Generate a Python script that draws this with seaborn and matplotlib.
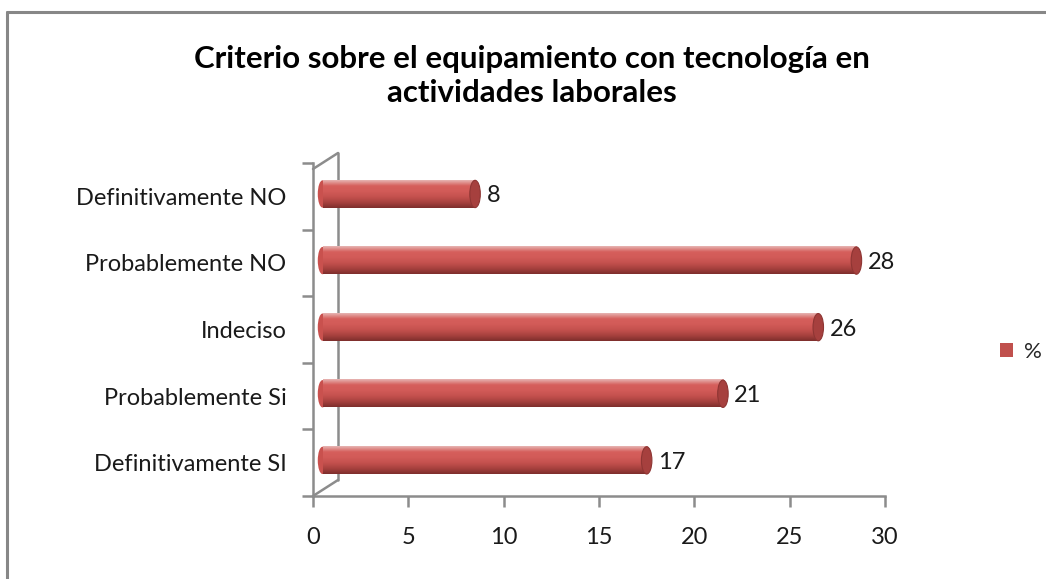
import numpy as np
import pandas as pd
import matplotlib
matplotlib.use("Agg")
import matplotlib.pyplot as plt
import seaborn as sns
from matplotlib.patches import Ellipse
from matplotlib.lines import Line2D
from matplotlib.colors import LinearSegmentedColormap

categories = ["Definitivamente NO", "Probablemente NO", "Indeciso", "Probablemente Si", "Definitivamente SI"]
values = [8, 28, 26, 21, 17]
series_name = "%"
title = "Criterio sobre el equipamiento con tecnología en\nactividades laborales"
xticks = [0, 5, 10, 15, 20, 25, 30]

sns.set_theme(style="white")
plt.rcParams["font.family"] = ["Lato", "DejaVu Sans"]

W, H = 1046, 579
fig = plt.figure(figsize=(W / 100, H / 100), dpi=100)

def fx(px):
    return px / W

def fy(py):
    return 1 - py / H

# axes: front plane x 313..885, y 163..496
ax = fig.add_axes([fx(313), fy(496), fx(885) - fx(313), (496 - 163) / H])

df = pd.DataFrame({"cat": categories, "val": values})
sns.barplot(data=df, y="cat", x="val", orient="h", color="#C0504D", width=0.41, ax=ax)

grad = LinearSegmentedColormap.from_list(
    "cyl", ["#E6B3B1", "#D65F5C", "#D25B58", "#C4514E", "#A8423F", "#7E2E2C"])
gimg = np.linspace(0, 1, 64).reshape(-1, 1)
depth = 0.5  # 3D depth shift of the series plane
for p in list(ax.patches):
    x0, y0 = p.get_x() + depth, p.get_y() - 0.035
    w, h = p.get_width(), p.get_height()
    ax.add_patch(Ellipse((x0, y0 + h / 2), 0.5, h, facecolor="#C9514E", edgecolor="none", zorder=2))
    ax.imshow(gimg, cmap=grad, extent=(x0, x0 + w, y0 + h, y0), aspect="auto",
              origin="upper", zorder=3, interpolation="bilinear")
    ax.add_patch(Ellipse((x0 + w, y0 + h / 2), 0.55, h, facecolor="#A6403E",
                         edgecolor="#8E3533", lw=0.8, zorder=4))
    p.set_visible(False)
    ax.text(x0 + w + 0.6, y0 + h / 2 + 0.03, f"{w:g}", va="center", ha="left",
            fontsize=17, color="#1a1a1a", zorder=5)

ax.set_xlim(0, 30)
ax.set_ylim(4.5, -0.5)
ax.set_xticks(xticks)
ax.set_xticklabels([str(t) for t in xticks], fontsize=17, color="#1a1a1a")
ax.set_yticks(range(len(categories)))
ax.set_yticklabels(categories, fontsize=17, color="#1a1a1a")
ax.set_yticks(np.arange(-0.5, len(categories), 1.0), minor=True)
ax.tick_params(axis="y", which="major", length=0, pad=19)
ax.tick_params(axis="y", which="minor", length=8, width=1.8, color="#8c8c8c", left=True)
ax.tick_params(axis="x", which="major", length=8, width=1.8, color="#8c8c8c", bottom=True, pad=14, direction="out")
ax.set_xlabel("")
ax.set_ylabel("")
for s in ["top", "right"]:
    ax.spines[s].set_visible(False)
for s in ["left", "bottom"]:
    ax.spines[s].set_color("#8c8c8c")
    ax.spines[s].set_linewidth(1.8)
ax.patch.set_alpha(0)

# 3D back wall lines (behind the bars)
wall = dict(color="#8c8c8c", lw=1.8, transform=fig.transFigure, zorder=-1)
fig.add_artist(Line2D([fx(313), fx(338)], [fy(169), fy(153)], **wall))
fig.add_artist(Line2D([fx(338), fx(338)], [fy(153), fy(480)], **wall))
fig.add_artist(Line2D([fx(313), fx(338)], [fy(496), fy(480)], **wall))

# outer chart border
border = dict(color="#878787", lw=2.2, transform=fig.transFigure)
fig.add_artist(Line2D([fx(7), fx(7)], [fy(12), 0], **border))
fig.add_artist(Line2D([fx(7), 1], [fy(12), fy(12)], **border))

fig.text(fx(532), fy(76), title, ha="center", va="center", fontsize=22.5,
         fontweight="bold", color="#000000", linespacing=1.3)

handle = plt.Rectangle((0, 0), 1, 1, facecolor="#C0504D", edgecolor="none")
fig.legend([handle], [series_name], loc="center left", bbox_to_anchor=(fx(980), fy(352)),
           frameon=False, fontsize=16, handlelength=0.6, handleheight=0.6, handletextpad=0.5)

fig.savefig("out.png", dpi=100)
